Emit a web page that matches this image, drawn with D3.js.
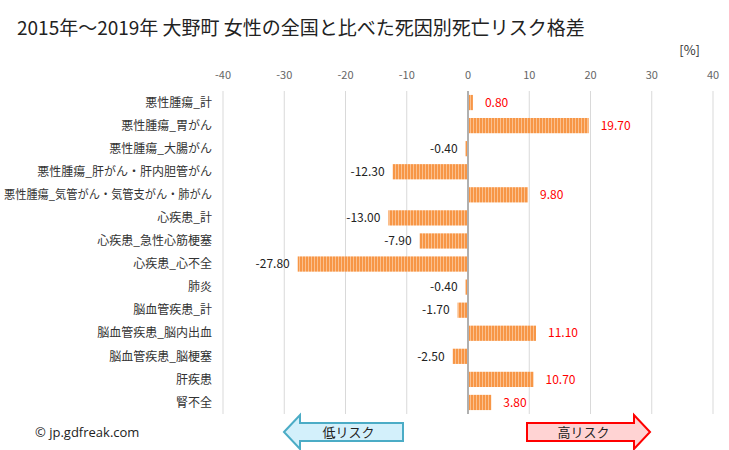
<!DOCTYPE html>
<html><head><meta charset="utf-8">
<script src="https://cdn.jsdelivr.net/npm/d3@7"></script>
<style>body{margin:0;background:#fff;}svg{display:block;font-family:"Noto Sans CJK JP","Noto Sans",sans-serif;}</style>
</head><body>
<script>
const categories = ["悪性腫瘍_計","悪性腫瘍_胃がん","悪性腫瘍_大腸がん","悪性腫瘍_肝がん・肝内胆管がん","悪性腫瘍_気管がん・気管支がん・肺がん","心疾患_計","心疾患_急性心筋梗塞","心疾患_心不全","肺炎","脳血管疾患_計","脳血管疾患_脳内出血","脳血管疾患_脳梗塞","肝疾患","腎不全"];
const values = [0.80,19.70,-0.40,-12.30,9.80,-13.00,-7.90,-27.80,-0.40,-1.70,11.10,-2.50,10.70,3.80];
const ticks = [-40,-30,-20,-10,0,10,20,30,40];
const title = "2015年～2019年 大野町 女性の全国と比べた死因別死亡リスク格差";

const W=729,H=450;
const svg=d3.select("body").append("svg").attr("width",W).attr("height",H);
const defs=svg.append("defs");
const pat=defs.append("pattern").attr("id","hatch").attr("patternUnits","userSpaceOnUse").attr("width",3).attr("height",4);
pat.append("rect").attr("width",3).attr("height",4).attr("fill","#fbc08e");
pat.append("rect").attr("width",2).attr("height",4).attr("fill","#f79646");

const x=d3.scaleLinear().domain([-40,40]).range([223,713]);
const y=d3.scaleBand().domain(categories).range([91,414]).paddingInner(0.34).paddingOuter(0.17);

svg.append("text").attr("x",17).attr("y",35).attr("font-size",19).attr("fill","#222").text(title);
svg.append("text").attr("x",700).attr("y",55).attr("text-anchor","end").attr("font-size",13).attr("fill","#333").text("[%]");

// grid
svg.append("g").selectAll("line").data(ticks.filter(t=>t!==0)).join("line")
 .attr("x1",d=>x(d)).attr("x2",d=>x(d)).attr("y1",91).attr("y2",414)
 .attr("stroke","#d9d9d9").attr("stroke-width",1);

// tick labels
svg.append("g").selectAll("text").data(ticks).join("text")
 .attr("x",d=>x(d)).attr("y",79).attr("text-anchor","middle").attr("font-size",11).attr("fill","#666").text(d=>d);

// category labels
svg.append("g").selectAll("text").data(categories).join("text")
 .attr("x",212).attr("y",d=>y(d)+y.bandwidth()/2).attr("dy","0.35em").attr("text-anchor","end")
 .attr("font-size",12).attr("fill","#333").text(d=>d)
 .each(function(){ const L=this.getComputedTextLength(); if(L>208){ d3.select(this).attr("textLength",208).attr("lengthAdjust","spacingAndGlyphs"); } });

// bars
const data=categories.map((c,i)=>({c,v:values[i]}));
svg.append("g").selectAll("rect").data(data).join("rect")
 .attr("x",d=>Math.min(x(0),x(d.v))).attr("width",d=>Math.abs(x(d.v)-x(0)))
 .attr("y",d=>y(d.c)).attr("height",y.bandwidth()).attr("fill","url(#hatch)");

// zero line
svg.append("line").attr("x1",x(0)).attr("x2",x(0)).attr("y1",91).attr("y2",414).attr("stroke","#b0b0b0").attr("stroke-width",2);

// value labels
svg.append("g").selectAll("text").data(data).join("text")
 .attr("x",d=>d.v>=0?x(d.v)+12:x(d.v)-8)
 .attr("y",d=>y(d.c)+y.bandwidth()/2).attr("dy","0.35em")
 .attr("text-anchor",d=>d.v>=0?"start":"end")
 .attr("font-size",12).attr("fill",d=>d.v>=0?"#ff0000":"#222")
 .text(d=>d.v.toFixed(2));

// arrows
function arrow(x0,x1,yc,dir,fill,stroke,label){
  const hh=11, ah=17, aw=16;
  let pts;
  if(dir<0){
    pts=[[x0,yc],[x0+aw,yc-ah],[x0+aw,yc-hh+2],[x1,yc-hh+2],[x1,yc+hh-2],[x0+aw,yc+hh-2],[x0+aw,yc+ah]];
  } else {
    pts=[[x1,yc],[x1-aw,yc-ah],[x1-aw,yc-hh+2],[x0,yc-hh+2],[x0,yc+hh-2],[x1-aw,yc+hh-2],[x1-aw,yc+ah]];
  }
  svg.append("polygon").attr("points",pts.map(p=>p.join(",")).join(" ")).attr("fill",fill).attr("stroke",stroke).attr("stroke-width",2);
  svg.append("text").attr("x",(x0+x1)/2+(dir<0?5:-5)).attr("y",yc).attr("dy","0.35em").attr("text-anchor","middle").attr("font-size",13).attr("fill","#222").text(label);
}
arrow(284,403,432,-1,"#d3f0fb","#4bacc6","低リスク");
arrow(527,650,432,1,"#ffd3d3","#ff0000","高リスク");

svg.append("text").attr("x",35).attr("y",437).attr("font-size",13).attr("fill","#222").attr("font-family","'Open Sans','Noto Sans',sans-serif").text("© jp.gdfreak.com");
</script>
</body></html>
